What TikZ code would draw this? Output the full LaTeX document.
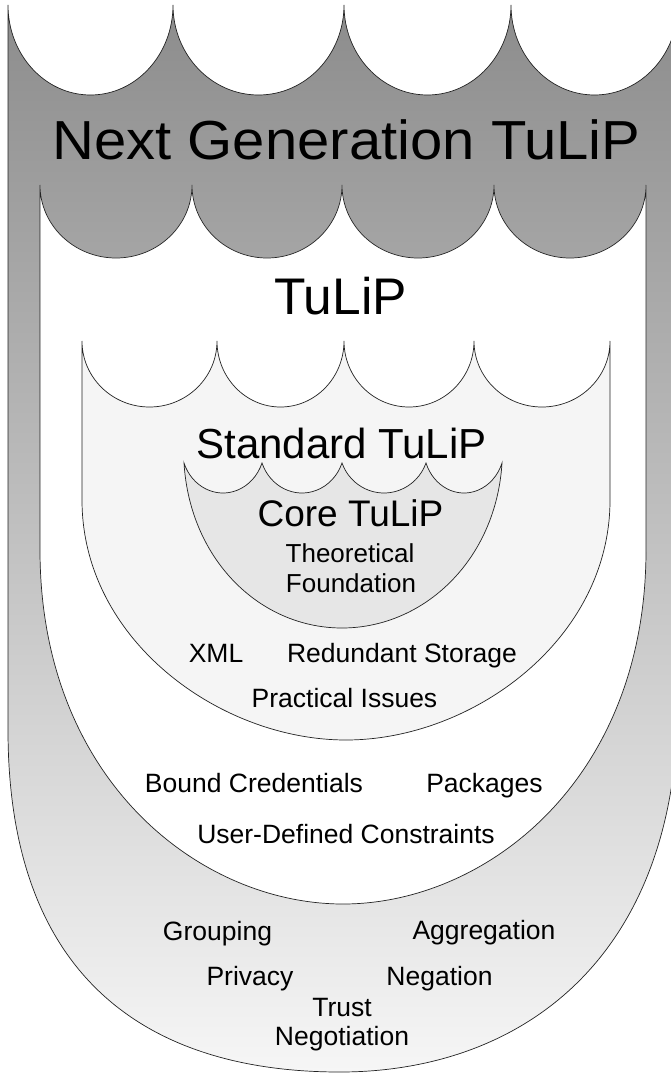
\documentclass[tikz,border=0pt]{standalone}
\usepackage{fontspec}
\setmainfont{Liberation Sans}
\definecolor{shadetop}{RGB}{140,140,140}
\definecolor{shadebot}{RGB}{246,246,246}
\definecolor{stdfill}{RGB}{245,245,245}
\definecolor{corefill}{RGB}{230,230,230}
\definecolor{edge}{RGB}{35,35,35}
\begin{document}
\begin{tikzpicture}[x=1pt,y=1pt,
  rim/.style={draw=edge, line width=0.7pt},
  lbl/.style={anchor=base, inner sep=0pt, font=\fontsize{26.5}{30}\selectfont},
  biglbl/.style={anchor=base, inner sep=0pt},
  twoline/.style={anchor=base, inner sep=0pt, align=center,
    font=\fontsize{26.5}{29}\selectfont}]
\useasboundingbox (0,0) rectangle (670,-1073);

% outermost layer: Next Generation TuLiP
\shadedraw[rim, top color=shadetop, bottom color=shadebot]
  (8,-5)
  arc[start angle=180, end angle=360, x radius=82.5, y radius=90]
  arc[start angle=180, end angle=360, x radius=85.5, y radius=90]
  arc[start angle=180, end angle=360, x radius=83.5, y radius=90]
  arc[start angle=180, end angle=360, x radius=83.5, y radius=90]
  -- (678,-700) .. controls (678,-960) and (520,-1072) .. (340,-1072)
  .. controls (150,-1072) and (8,-980) .. (8,-730) -- cycle;

% TuLiP layer
\filldraw[rim, fill=white]
  (40,-185)
  arc[start angle=180, end angle=360, x radius=76, y radius=73]
  arc[start angle=180, end angle=360, x radius=75, y radius=73]
  arc[start angle=180, end angle=360, x radius=76, y radius=73]
  arc[start angle=180, end angle=360, x radius=76, y radius=73]
  -- (646,-550) .. controls (646,-780) and (486,-904) .. (343,-904)
  .. controls (200,-904) and (40,-780) .. (40,-550) -- cycle;

% Standard TuLiP layer
\filldraw[rim, fill=stdfill]
  (82,-341)
  arc[start angle=180, end angle=360, x radius=67.5, y radius=66]
  arc[start angle=180, end angle=360, x radius=63.5, y radius=66]
  arc[start angle=180, end angle=360, x radius=65, y radius=66]
  arc[start angle=180, end angle=360, x radius=68, y radius=66]
  -- (610,-500) .. controls (610,-640) and (472,-740) .. (346,-740)
  .. controls (220,-740) and (82,-640) .. (82,-500) -- cycle;

% Core TuLiP layer
\filldraw[rim, fill=corefill]
  (184,-463)
  arc[start angle=200, end angle=340, x radius=41.5, y radius=45.6]
  arc[start angle=200, end angle=340, x radius=42.57, y radius=45.6]
  arc[start angle=200, end angle=340, x radius=44.7, y radius=45.6]
  arc[start angle=200, end angle=340, x radius=40.44, y radius=45.6]
  .. controls (496,-560) and (424,-628) .. (342,-628)
  .. controls (260,-628) and (190,-560) .. (184,-463) -- cycle;

% layer titles
\node[biglbl, font=\fontsize{55}{60}\selectfont, xscale=1.055] (ng) at (346.5,-159) {Next Generation TuLiP};
\node[biglbl, font=\fontsize{51.5}{56}\selectfont] (tulip) at (340.5,-314) {TuLiP};
\node[biglbl, font=\fontsize{42}{46}\selectfont] (std) at (341.5,-458) {Standard TuLiP};
\node[biglbl, font=\fontsize{37}{40}\selectfont] (core) at (350.5,-526) {Core TuLiP};

% core contents
\node[lbl, font=\fontsize{26}{30}\selectfont] (theo) at (350,-562) {Theoretical};
\node[lbl, font=\fontsize{26}{30}\selectfont] (found) at (351,-592) {Foundation};

% standard contents
\node[lbl] (xml) at (216,-662) {XML};
\node[lbl] (redund) at (402,-662) {Redundant Storage};
\node[lbl] (pract) at (344.5,-707) {Practical Issues};

% TuLiP contents
\node[lbl] (bound) at (254,-792) {Bound Credentials};
\node[lbl] (pack) at (484.5,-792) {Packages};
\node[lbl] (udc) at (346,-843) {User-Defined Constraints};

% next generation contents
\node[lbl] (group) at (217.5,-940) {Grouping};
\node[lbl] (aggr) at (484,-939) {Aggregation};
\node[lbl] (priv) at (250,-985) {Privacy};
\node[lbl] (neg) at (439.5,-985) {Negation};
\node[lbl] (trust) at (342,-1016) {Trust};
\node[lbl] (tneg) at (342,-1045) {Negotiation};
\end{tikzpicture}
\end{document}
